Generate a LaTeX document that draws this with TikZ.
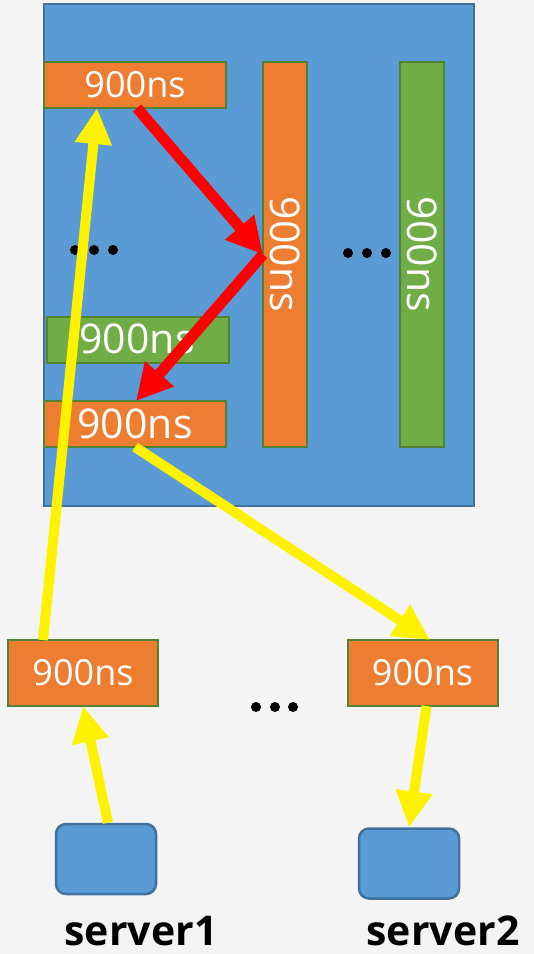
\documentclass[tikz,border=0pt]{standalone}
\usepackage{fontspec}
\setmainfont{Open Sans}
\usetikzlibrary{arrows.meta,calc}
\definecolor{bg}{HTML}{F4F4F4}
\definecolor{panel}{HTML}{5B9BD5}
\definecolor{panelline}{HTML}{41719C}
\definecolor{boxorange}{HTML}{ED7D31}
\definecolor{boxgreen}{HTML}{70AD47}
\definecolor{boxline}{HTML}{548235}
\begin{document}
\begin{tikzpicture}[x=1pt,y=-1pt,
  cell/.style={draw=boxline,line width=2pt,inner sep=0pt,outer sep=0pt},
  hcell/.style={cell,minimum width=182pt,minimum height=46pt},
  vcell/.style={cell,minimum width=44pt,minimum height=385pt},
  lowcell/.style={cell,minimum width=150pt,minimum height=66pt},
  server/.style={draw=panelline,fill=panel,line width=2.5pt,rounded corners=10pt,
    minimum width=100pt,minimum height=70pt,inner sep=0pt},
  val/.style={text=white,inner sep=0pt,font=\fontsize{36}{40}\selectfont},
  bigval/.style={text=white,inner sep=0pt,font=\fontsize{41}{45}\selectfont},
  srvlabel/.style={inner sep=0pt,anchor=base,font=\bfseries\fontsize{41}{45}\selectfont},
  yarrow/.style={draw=yellow,line width=10pt,-{Triangle[width=35pt,length=36pt]},fill=yellow},
  rarrow/.style={draw=red,line width=11pt,-{Triangle[width=36pt,length=36pt]},fill=red},
  dot/.style={fill=black}
]
\fill[bg] (0,0) rectangle (534,954);
\useasboundingbox (0,0) rectangle (534,954);

% switch panel
\node[draw=panelline,fill=panel,line width=2pt,minimum width=430pt,minimum height=502pt,inner sep=0pt] (panel) at (259,255) {};

% buffers inside the switch
\node[hcell,fill=boxorange] (t1) at (135,85) {};
\node[val] at (t1.center) {900ns};
\node[hcell,fill=boxgreen] (g1) at (138,340) {};
\node[bigval] at (137,339) {900ns};
\node[hcell,fill=boxorange] (o2) at (135,424) {};
\node[bigval] at (135,424) {900ns};
\node[vcell,fill=boxorange] (vb) at (285,254.5) {};
\node[bigval,rotate=-90] at (vb.center) {900ns};
\node[vcell,fill=boxgreen] (gb) at (422,254.5) {};
\node[bigval,rotate=-90] at (gb.center) {900ns};

% ellipses
\foreach \x in {75,94,113} \fill[dot] (\x,250) circle (5pt);
\foreach \x in {348,367,386} \fill[dot] (\x,253) circle (5pt);
\foreach \x in {256,275,293} \fill[dot] (\x,707) circle (5pt);

% edge buffers
\node[lowcell,fill=boxorange] (bl) at (83,673) {};
\node[val] at (bl.center) {900ns};
\node[lowcell,fill=boxorange] (br) at (422.5,673) {};
\node[val] at (br.center) {900ns};

% servers
\node[server] (s1) at (106,859) {};
\node[server] (s2) at (409,863.5) {};
\node[srvlabel] at (141,945) {server1};
\node[srvlabel] at (443,945) {server2};

% packet path
\draw[yarrow] ([xshift=2pt]s1.north) -- (bl.south);
\draw[yarrow] ([xshift=-40pt]bl.north) -- ([xshift=-38pt]t1.south);
\draw[rarrow] ([xshift=2pt]t1.south) -- (vb.west);
\draw[rarrow] (vb.west) -- ([xshift=1pt]o2.north);
\draw[yarrow] (o2.south) -- ([xshift=7.5pt]br.north);
\draw[yarrow] ([xshift=4pt]br.south) -- (s2.north);
\end{tikzpicture}
\end{document}
